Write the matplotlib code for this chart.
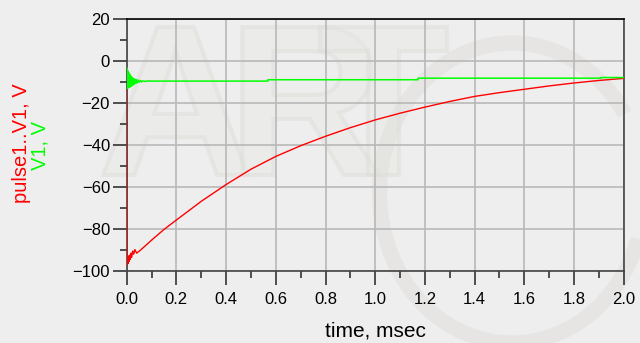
import numpy as np
import matplotlib
matplotlib.use("Agg")
from matplotlib import pyplot as plt
from matplotlib.ticker import MultipleLocator
from matplotlib.textpath import TextPath
from matplotlib.patches import PathPatch, Arc
from matplotlib.transforms import Affine2D
from matplotlib.font_manager import FontProperties

# pulse1..V1 (red)
red_t = [0.0, 0.0005, 0.0015, 0.003, 0.005, 0.007, 0.009, 0.011, 0.014, 0.017, 0.020, 0.024,
         0.028, 0.033, 0.040, 0.050, 0.075, 0.1, 0.15, 0.2, 0.3, 0.4, 0.5, 0.6, 0.7, 0.8, 0.9,
         1.0, 1.1, 1.2, 1.3, 1.4, 1.5, 1.6, 1.7, 1.8, 1.9, 2.0]
red_v = [-9.0, -32.0, -97.0, -94.0, -96.5, -93.0, -95.5, -92.5, -94.5, -91.5, -93.5, -90.5,
         -92.0, -89.8, -91.5, -90.6, -88.0, -85.3, -80.2, -75.7, -66.8, -58.8, -51.5, -45.4,
         -40.3, -35.8, -31.7, -28.0, -24.8, -21.9, -19.2, -16.8, -15.0, -13.4, -11.8, -10.4,
         -9.2, -8.2]

# V1 (green)
green_t = [0.0, 0.001, 0.002, 0.004, 0.006, 0.008, 0.010, 0.012, 0.014, 0.016, 0.018, 0.020,
           0.022, 0.024, 0.026, 0.028, 0.030, 0.033, 0.036, 0.039, 0.042, 0.046, 0.050, 0.055,
           0.060, 0.066, 0.075, 0.085, 0.1, 0.568, 0.5685, 1.172, 1.1725, 1.908, 1.9085, 2.0]
green_v = [-9.5, -3.3, -13.1, -4.5, -12.8, -5.5, -12.5, -6.2, -12.3, -7.0, -12.0, -7.5,
           -11.6, -8.0, -11.3, -8.3, -11.0, -8.6, -10.6, -8.8, -10.3, -9.0, -10.1, -9.2,
           -9.9, -9.4, -9.7, -9.4, -9.5, -9.5, -8.85, -8.85, -8.1, -8.1, -7.8, -7.8]

bg = "#efeeee"
fig = plt.figure(figsize=(6.4, 3.43), dpi=100, facecolor=bg)

# faint logo watermark behind everything (pixel coords, origin bottom-left)
fp = FontProperties(family="Liberation Sans", weight="bold")
for ch, x0 in [("A", 98), ("R", 228), ("T", 318)]:
    tp = TextPath((0, 0), ch, size=215, prop=fp)
    tr = Affine2D().translate(x0, 168)
    fig.patches.append(PathPatch(tr.transform_path(tp), facecolor="#e8e8e5",
                                 edgecolor="#dcdcd8", lw=3, alpha=0.45, zorder=0))
fig.patches.append(Arc((512, 150), 265, 300, theta1=35, theta2=340, lw=11,
                       color="#dedeDA", alpha=0.5, zorder=0, transform=None))

ax = fig.add_axes([0.198, 0.21, 0.7765, 0.734])
ax.set_zorder(2)
ax.set_facecolor("none")

ax.plot(red_t, red_v, color="#ff0000", lw=1.0, zorder=3)
ax.plot(green_t, green_v, color="#00ff00", lw=1.1, zorder=4)

ax.set_xlim(0, 2.0)
ax.set_ylim(-100, 20)
ax.xaxis.set_major_locator(MultipleLocator(0.2))
ax.xaxis.set_minor_locator(MultipleLocator(0.1))
ax.yaxis.set_major_locator(MultipleLocator(20))
ax.yaxis.set_minor_locator(MultipleLocator(10))
ax.set_xticklabels([f"{v:.1f}" for v in ax.get_xticks()])

ax.grid(True, which="major", color="#b8b8b8", lw=1.2, zorder=1)
ax.tick_params(which="major", direction="out", length=10, width=1.2, color="#333333",
               labelsize=12, pad=5)
ax.tick_params(which="minor", direction="out", length=5, width=1.2, color="#333333")
ax.tick_params(axis="y", which="major", pad=2)
for side in ["left", "bottom", "right"]:
    ax.spines[side].set_color("#444444")
    ax.spines[side].set_linewidth(1.2)
ax.spines["top"].set_color("#000000")
ax.spines["top"].set_linewidth(1.2)
for lab in ax.get_xticklabels() + ax.get_yticklabels():
    lab.set_family("Liberation Sans")

fig.text(0.586, 0.006, "time, msec", ha="center", va="bottom", fontsize=15,
         family="Liberation Sans")
fig.text(22 / 640, 1 - 143 / 343, "pulse1..V1, V", rotation=90, ha="center", va="center",
         fontsize=14.5, color="#ff0000", family="Liberation Sans")
fig.text(40 / 640, 1 - 145 / 343, "V1, V", rotation=90, ha="center", va="center",
         fontsize=14.5, color="#00ff00", family="Liberation Sans")

fig.savefig("out.png", dpi=100, facecolor=bg)
